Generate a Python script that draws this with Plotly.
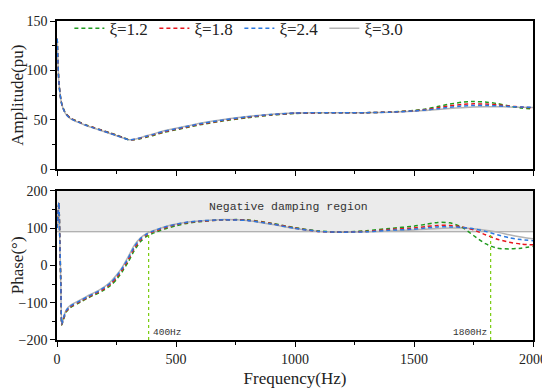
import plotly.graph_objects as go
from plotly.subplots import make_subplots

freq = [1, 4, 8, 12, 16, 20, 25, 32, 40, 55, 70, 85, 100, 125, 150, 175, 200, 225, 250, 275,
        300, 325, 350, 375, 400, 450, 500, 550, 600, 700, 800, 900, 1000, 1100, 1200, 1300,
        1400, 1500, 1550, 1600, 1650, 1700, 1750, 1800, 1850, 1900, 1950, 2000]

labels = ["ξ=1.2", "ξ=1.8", "ξ=2.4", "ξ=3.0"]

amp_12 = [132, 108, 88, 78, 71, 66, 62.5, 58.7, 55.7, 52.2, 50.2, 48.7, 47.2, 44.7, 42.7, 40.7,
          38.7, 36.7, 34.7, 32.5, 30, 30, 31, 32.5, 34, 37.5, 40, 42.5, 45, 49, 52.2, 54.8,
          56.5, 57, 57.2, 57.3, 58, 59.5, 61, 63.5, 66, 67.8, 68.6, 68, 66.5, 64, 62, 61]
amp_18 = [132, 108, 88, 78, 71, 66, 62.3, 58.5, 55.5, 52, 50, 48.5, 47, 44.5, 42.5, 40.5,
          38.5, 36.5, 34.5, 32.2, 30, 30.2, 31.5, 33, 34.5, 38, 40.5, 43, 45.5, 49.5, 52.7, 55.2,
          56.7, 57.1, 57.2, 57.3, 57.9, 59.2, 60.5, 62.3, 64.2, 65.6, 66.2, 66, 65.2, 64, 63, 62.2]
amp_24 = [132, 108, 88, 78, 71, 66, 62.1, 58.2, 55.2, 51.7, 49.7, 48.2, 46.7, 44.2, 42.2, 40.2,
          38.2, 36.2, 34.2, 32, 30, 30.4, 31.8, 33.5, 35, 38.5, 41, 43.5, 46, 50, 53.1, 55.5,
          56.9, 57.2, 57.2, 57.3, 57.8, 59, 60, 61.3, 62.8, 64, 64.6, 64.6, 64.2, 63.5, 63, 62.6]
amp_30 = [132, 108, 88, 78, 71, 66, 62, 58, 55, 51.5, 49.5, 48, 46.5, 44, 42, 40,
          38, 36, 34, 32, 30, 30.5, 32, 34, 35.5, 39, 41.5, 44, 46.5, 50.5, 53.5, 55.8,
          57, 57.2, 57.2, 57.3, 57.8, 58.8, 59.6, 60.5, 61.5, 62.3, 63, 63.3, 63.3, 63, 62.7, 62.5]

ph_12 = [100, 138, 168, 59, -49, -160, -150, -136, -124, -114, -108, -103, -98, -89, -81, -74,
         -65, -54, -38, -16, 10, 40, 63, 77, 85, 97, 106, 113, 117, 122, 122, 113,
         101, 92, 89, 93, 99, 105, 110, 115, 114, 103, 80, 58, 46, 44, 46, 51]
ph_18 = [100, 138, 168, 59, -49, -159, -148, -134, -122, -112, -106, -101, -96, -87, -79, -71,
         -62, -50, -33, -11, 16, 46, 68, 81, 89, 100, 109, 115, 118, 122, 121, 112,
         100, 91, 89, 91, 96, 100, 104, 107, 107, 103, 95, 82, 70, 62, 57, 55]
ph_24 = [100, 138, 168, 59, -49, -158, -146, -132, -120, -110, -104, -99, -94, -85, -77, -69,
         -59, -47, -29, -7, 20, 50, 71, 83, 91, 102, 110, 116, 119, 122, 120, 111,
         99, 91, 89, 90, 94, 97, 100, 103, 103, 102, 98, 91, 82, 74, 69, 66]
ph_30 = [100, 138, 168, 59, -49, -158, -145, -130, -118, -108, -102, -97, -92, -83, -75, -67,
         -57, -44, -26, -4, 24, 54, 73, 85, 92, 103, 111, 116, 119, 123, 120, 110,
         99, 91, 89, 90, 92, 95, 97, 99, 100, 100, 98, 94, 89, 82, 76, 71]

marker_freqs = [385, 1822]
marker_labels = ["400Hz", "1800Hz"]
region_low, region_high = 90, 200

colors = ["#1f9a1f", "#e8141c", "#2a78e0", "#b4b4b4"]
amps = [amp_12, amp_18, amp_24, amp_30]
phs = [ph_12, ph_18, ph_24, ph_30]

fig = make_subplots(rows=2, cols=1, shared_xaxes=False, vertical_spacing=0.0)
fig.update_layout(
    xaxis=dict(domain=[0, 1], anchor="y"),
    yaxis=dict(domain=[0.535, 1.0], anchor="x"),
    xaxis2=dict(domain=[0, 1], anchor="y2"),
    yaxis2=dict(domain=[0.0, 0.468], anchor="x2"),
)

order = [3, 0, 1, 2]
for i in order:
    dash = "solid" if i == 3 else "4px,3px"
    fig.add_trace(go.Scatter(x=freq, y=amps[i], mode="lines", name=labels[i],
                             line=dict(color=colors[i], width=1.5, dash=dash, shape="spline", smoothing=0.6),
                             legendrank=i + 1, showlegend=True), row=1, col=1)
for i in order:
    dash = "solid" if i == 3 else "4px,3px"
    fig.add_trace(go.Scatter(x=freq, y=phs[i], mode="lines", name=labels[i],
                             line=dict(color=colors[i], width=1.5, dash=dash, shape="spline", smoothing=0.6),
                             showlegend=False), row=2, col=1)

# negative damping region
fig.add_shape(type="rect", xref="x2", yref="y2", x0=0, x1=2000, y0=region_low, y1=region_high,
              fillcolor="#ebebeb", line=dict(width=0), layer="below")
fig.add_shape(type="line", xref="x2", yref="y2", x0=0, x1=2000, y0=region_low, y1=region_low,
              line=dict(color="#9a9a9a", width=1), layer="below")
for f in marker_freqs:
    fig.add_shape(type="line", xref="x2", yref="y2", x0=f, x1=f, y0=-200, y1=region_low,
                  line=dict(color="#7acc10", width=1.2, dash="dot"))

fig.add_annotation(xref="x2", yref="y2", x=972, y=158, text="Negative damping region",
                   showarrow=False, font=dict(family="Liberation Mono", size=11.5, color="#333"))
fig.add_annotation(xref="x2", yref="y2", x=marker_freqs[0] + 8, y=-180, text=marker_labels[0],
                   xanchor="left", showarrow=False, font=dict(family="Liberation Mono", size=9.5, color="#333"))
fig.add_annotation(xref="x2", yref="y2", x=marker_freqs[1] - 8, y=-180, text=marker_labels[1],
                   xanchor="right", showarrow=False, font=dict(family="Liberation Mono", size=9.5, color="#333"))

axis_common = dict(showline=True, linecolor="black", linewidth=1.5, mirror=True, ticks="outside",
                   ticklen=5, tickwidth=1.2, tickcolor="black", showgrid=False, zeroline=False,
                   automargin=False,
                   tickfont=dict(family="Liberation Serif", size=14, color="#222"))

fig.update_xaxes(**axis_common, range=[0, 2000], dtick=500, tick0=0,
                 minor=dict(ticks="outside", ticklen=3, dtick=250, tickcolor="black", tickwidth=1.2))
fig.update_xaxes(showticklabels=False, row=1, col=1)
fig.update_xaxes(title=dict(text="Frequency(Hz)", font=dict(family="Liberation Serif", size=17, color="#222"),
                            standoff=7), row=2, col=1)
fig.update_yaxes(**axis_common)
fig.update_yaxes(range=[0, 150], dtick=50, minor=dict(ticks="outside", ticklen=3, dtick=25, tickcolor="black"),
                 title=dict(text="Amplitude(pu)", font=dict(family="Liberation Serif", size=17, color="#222"), standoff=6),
                 row=1, col=1)
fig.update_yaxes(range=[-200, 200], dtick=100, minor=dict(ticks="outside", ticklen=3, dtick=50, tickcolor="black"),
                 title=dict(text="Phase(°)", font=dict(family="Liberation Serif", size=17, color="#222"), standoff=6),
                 row=2, col=1)

# the page body adds an 8px offset; size the figure so that it fits the 550x392 window
fig.update_layout(
    width=542, height=384,
    margin=dict(l=49, r=17, t=3, b=52),
    paper_bgcolor="white", plot_bgcolor="white",
    legend=dict(orientation="h", x=0.026, xanchor="left", y=1.032, yanchor="top",
                bgcolor="rgba(0,0,0,0)", font=dict(family="Liberation Serif", size=17, color="#222"),
                entrywidth=40, entrywidthmode="pixels", traceorder="normal", tracegroupgap=0),
    showlegend=True,
)

fig.write_html("out.html")
